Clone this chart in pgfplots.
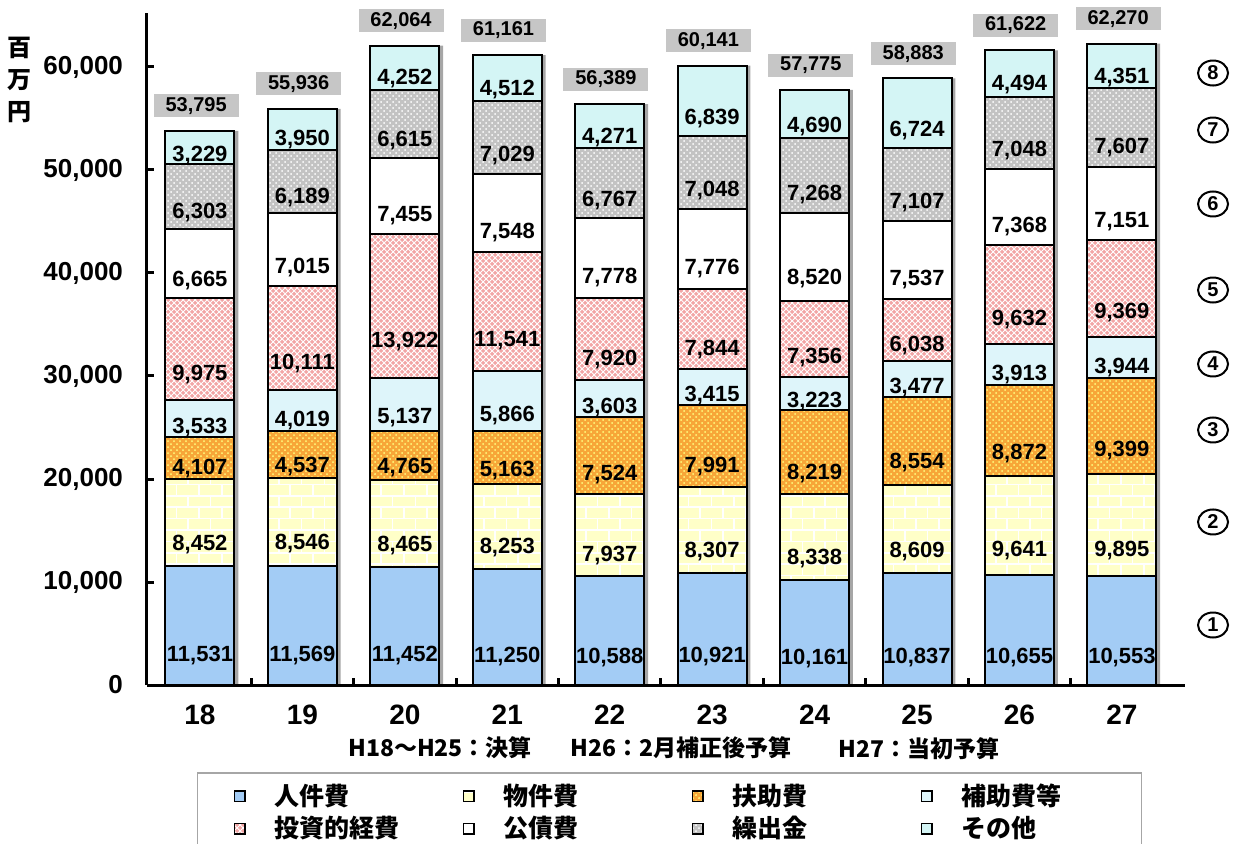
\documentclass[border=0pt]{standalone}
\usepackage{fontspec}
\setmainfont{Liberation Sans}
\newfontfamily\jp{Noto Sans CJK JP}
\usepackage{pgfplots}
\pgfplotsset{compat=1.18}
\usepackage{pgfplotstable}
\usetikzlibrary{patterns,shapes.geometric}

\definecolor{cjin}{RGB}{163,204,245}
\definecolor{cbuk}{RGB}{255,255,200}
\definecolor{cfuj}{RGB}{247,166,56}
\definecolor{choj}{RGB}{222,245,250}
\definecolor{ctou}{RGB}{242,165,165}
\definecolor{ckou}{RGB}{255,255,255}
\definecolor{ckur}{RGB}{195,195,195}
\definecolor{cson}{RGB}{212,245,245}

\pgfkeys{/pgf/number format/.cd,1000 sep={,},assume math mode=true}

\pgfplotstableread{
idx yr jin buk fuj hoj tou kou kur son tot
0 18 11531 8452 4107 3533 9975 6665 6303 3229 53795
1 19 11569 8546 4537 4019 10111 7015 6189 3950 55936
2 20 11452 8465 4765 5137 13922 7455 6615 4252 62064
3 21 11250 8253 5163 5866 11541 7548 7029 4512 61161
4 22 10588 7937 7524 3603 7920 7778 6767 4271 56389
5 23 10921 8307 7991 3415 7844 7776 7048 6839 60141
6 24 10161 8338 8219 3223 7356 8520 7268 4690 57775
7 25 10837 8609 8554 3477 6038 7537 7107 6724 58883
8 26 10655 9641 8872 3913 9632 7368 7048 4494 61622
9 27 10553 9895 9399 3944 9369 7151 7607 4351 62270
}\data

\pgfplotsset{base/.style={
  scale only axis, width=519pt, height=336pt,
  at={(0,0)}, anchor=south west,
  xmin=-0.517, xmax=9.616, ymin=0, ymax=65240,
  clip=false,
}}
\tikzset{circ/.style={ellipse, draw, line width=1pt, minimum width=15pt, minimum height=12.5pt, inner sep=0pt,
    font=\bfseries\fontsize{10}{10}\selectfont}}

\begin{document}
\begin{tikzpicture}
\useasboundingbox (-73.5pt,-79pt) rectangle (547.5pt,342.5pt);
% shadows and totals
\begin{axis}[base, hide axis]
\addplot[ybar, bar width=34.5pt, bar shift=1.9pt, fill=gray!70, draw=none,
  point meta=explicit,
  nodes near coords={\pgfmathprintnumber{\pgfplotspointmeta}},
  every node near coord/.append style={fill=gray!45, minimum width=42.5pt,
    minimum height=11.5pt, inner sep=0pt, anchor=south, yshift=6.5pt, xshift=-1.9pt,
    font=\bfseries\fontsize{10}{12}\selectfont}]
  table[x=idx, y=tot, meta=tot]{\data};
\end{axis}
% main stacked bars
\begin{axis}[base,
  ybar stacked, bar width=34.5pt,
  axis x line*=bottom, axis y line*=left,
  axis line style={-, line width=1.5pt},
  xtick={0,...,9}, xticklabels={18,19,20,21,22,23,24,25,26,27},
  minor xtick={0.5,1.5,...,8.5},
  major x tick style={draw=none},
  minor x tick style={line width=1.5pt, black},
  minor tick length=3.5pt,
  ytick={0,10000,...,60000},
  scaled y ticks=false,
  y tick style={line width=1.5pt, black},
  major tick length=3.5pt,
  tick align=inside,
  yticklabel style={font=\bfseries\fontsize{13}{15}\selectfont, xshift=-8.5pt},
  xticklabel style={font=\bfseries\fontsize{14}{16}\selectfont, yshift=-6.5pt},
  point meta=explicit,
  nodes near coords={\pgfmathprintnumber{\pgfplotspointmeta}},
  visualization depends on={rawy \as \rawy},
  every node near coord/.append style={anchor=center,
    shift={(axis direction cs:0,-\rawy/4)},
    font=\bfseries\fontsize{11}{12}\selectfont},
  legend columns=4,
  legend cell align=left,
  legend style={at={(axis description cs:0.048,-0.1295)}, anchor=north west,
    draw=gray!70, line width=0.8pt, inner xsep=18pt, inner ysep=3.5pt,
    font=\jp\bfseries\fontsize{12.5}{14}\selectfont,
    /tikz/every even column/.append style={column sep=22pt},
    /tikz/every odd column/.append style={column sep=12.5pt},
    /tikz/every row/.append style={row sep=1.5pt}},
  legend image code/.code={\draw[#1, draw=black, line width=0.8pt] (0pt,-2.6pt) rectangle (5.2pt,2.6pt);},
]
\addplot[fill=cjin, draw=black, line width=1pt] table[x=idx,y=jin,meta=jin]{\data};
\addplot[fill=cbuk, draw=black, line width=1pt, postaction={pattern=bricks, pattern color=white}] table[x=idx,y=buk,meta=buk]{\data};
\addplot[fill=cfuj, draw=black, line width=1pt, postaction={pattern=crosshatch dots, pattern color=yellow!50}] table[x=idx,y=fuj,meta=fuj]{\data};
\addplot[fill=choj, draw=black, line width=1pt] table[x=idx,y=hoj,meta=hoj]{\data};
\addplot[fill=ctou, draw=black, line width=1pt, postaction={pattern=crosshatch, pattern color=white}] table[x=idx,y=tou,meta=tou]{\data};
\addplot[fill=ckou, draw=black, line width=1pt] table[x=idx,y=kou,meta=kou]{\data};
\addplot[fill=ckur, draw=black, line width=1pt, postaction={pattern=crosshatch dots, pattern color=white}] table[x=idx,y=kur,meta=kur]{\data};
\addplot[fill=cson, draw=black, line width=1pt] table[x=idx,y=son,meta=son]{\data};
\legend{\makebox[70pt][l]{人件費},\makebox[70pt][l]{物件費},\makebox[70pt][l]{扶助費},\makebox[70pt][l]{補助費等},
  \makebox[70pt][l]{投資的経費},\makebox[70pt][l]{公債費},\makebox[70pt][l]{繰出金},\makebox[70pt][l]{その他}}

\node[font=\jp\bfseries\fontsize{12}{16}\selectfont, align=center] at (axis description cs:-0.1224,0.90) {百\\万\\円};

\node[font=\jp\bfseries\fontsize{11.5}{13}\selectfont] at (axis description cs:0.2823,-0.094) {H18～H25：決算};
\node[font=\jp\bfseries\fontsize{11.5}{13}\selectfont] at (axis description cs:0.5145,-0.094) {H26：2月補正後予算};
\node[font=\jp\bfseries\fontsize{11.5}{13}\selectfont] at (axis description cs:0.7437,-0.094) {H27：当初予算};

\node[circ] at (axis description cs:1.027,0.9107) {8};
\node[circ] at (axis description cs:1.027,0.8259) {7};
\node[circ] at (axis description cs:1.027,0.7158) {6};
\node[circ] at (axis description cs:1.027,0.5878) {5};
\node[circ] at (axis description cs:1.027,0.4777) {4};
\node[circ] at (axis description cs:1.027,0.3795) {3};
\node[circ] at (axis description cs:1.027,0.2426) {2};
\node[circ] at (axis description cs:1.027,0.0893) {1};
\end{axis}
\end{tikzpicture}
\end{document}
